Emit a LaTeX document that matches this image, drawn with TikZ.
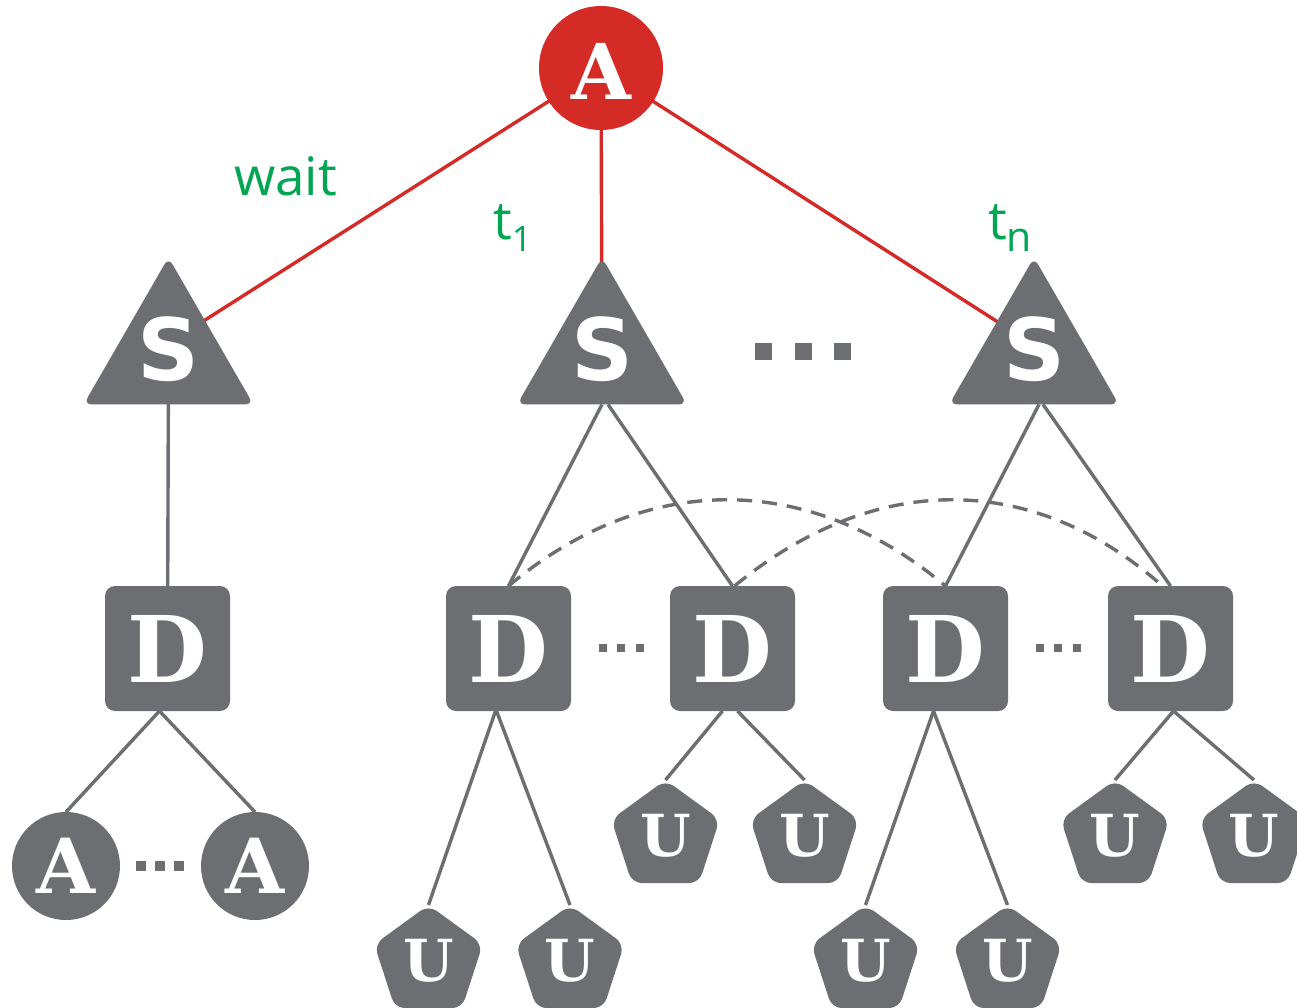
\documentclass[tikz,border=0pt]{standalone}
\usepackage{fontspec}
\setmainfont{DejaVu Serif}
\newfontfamily\slabfont{DejaVu Serif Bold}
\newfontfamily\sboldfont{DejaVu Sans Bold}
\newfontfamily\labfont{Open Sans}
\usetikzlibrary{shapes.geometric}
\definecolor{nodegray}{RGB}{109,110,114}
\definecolor{redA}{RGB}{213,43,39}
\definecolor{greenlab}{RGB}{0,166,81}
\pgfdeclarelayer{background}
\pgfsetlayers{background,main}
\newcommand{\ltr}[2]{\makebox[0pt]{\raisebox{\dimexpr-0.365em+#1\relax}[0pt][0pt]{#2}}}
\tikzset{
  base/.style={inner sep=0pt, outer sep=0pt, fill=nodegray, text=white},
  topnode/.style={base, circle, fill=redA, minimum size=124pt,
    font=\slabfont\fontsize{77pt}{77pt}\selectfont},
  anode/.style={base, circle, minimum size=108pt,
    font=\slabfont\fontsize{76pt}{76pt}\selectfont},
  snode/.style={base, regular polygon, regular polygon sides=3, minimum size=196pt,
    rounded corners=8pt, font=\sboldfont\fontsize{86pt}{86pt}\selectfont},
  dnode/.style={base, rectangle, minimum size=125pt, rounded corners=10pt,
    font=\slabfont\fontsize{92pt}{92pt}\selectfont},
  unode/.style={base, regular polygon, regular polygon sides=5, minimum size=114pt,
    rounded corners=10pt, font=\slabfont\fontsize{58pt}{58pt}\selectfont},
  bigdot/.style={base, rectangle, minimum size=17pt},
  smalldot/.style={base, rectangle, minimum size=8pt},
  adot/.style={base, rectangle, minimum size=10pt},
  lab/.style={inner sep=0pt, text=greenlab, anchor=base west,
    font=\labfont\fontsize{53pt}{53pt}\selectfont},
  redline/.style={draw=redA, line width=3.4pt},
  grayline/.style={draw=nodegray, line width=3.4pt},
  dashline/.style={draw=nodegray, line width=3.4pt, dash pattern=on 15pt off 10pt}
}
\begin{document}
\begin{tikzpicture}[x=1pt,y=-1pt]
\useasboundingbox (0,0) rectangle (1297,1008);

% top
\node[topnode] (A) at (601,68) {\ltr{-3pt}{A}};

% S level
\node[snode] (S1) at (168.5,355.4) {\ltr{6pt}{S}};
\node[snode] (S2) at (602,355.4) {\ltr{6pt}{S}};
\node[snode] (S3) at (1034,355.4) {\ltr{6pt}{S}};
\node[bigdot] (e1) at (763.5,351) {};
\node[bigdot] (e2) at (803,351) {};
\node[bigdot] (e3) at (842,351) {};

% labels
\node[lab] (lw) at (234,196) {wait};
\node[lab] (lt1) at (493,240) {t\raisebox{-12pt}{\fontsize{35pt}{35pt}\selectfont 1}};
\node[lab] (ltn) at (988,240) {t\raisebox{-12pt}{\fontsize{41pt}{41pt}\selectfont n}};

% D level
\node[dnode] (D0) at (167.5,648.5) {\ltr{0pt}{D}};
\node[dnode] (D1) at (508.5,648.5) {\ltr{0pt}{D}};
\node[dnode] (D2) at (732.5,648.5) {\ltr{0pt}{D}};
\node[dnode] (D3) at (945.5,648.5) {\ltr{0pt}{D}};
\node[dnode] (D4) at (1170.5,648.5) {\ltr{0pt}{D}};
\node[smalldot] (f1) at (603,648) {};
\node[smalldot] (f2) at (621,648) {};
\node[smalldot] (f3) at (640,648) {};
\node[smalldot] (g1) at (1040,648) {};
\node[smalldot] (g2) at (1058,648) {};
\node[smalldot] (g3) at (1077,648) {};

% bottom level
\node[anode] (A1) at (66,866) {\ltr{0pt}{A}};
\node[anode] (A2) at (255,866) {\ltr{0pt}{A}};
\node[adot] (h1) at (141,866) {};
\node[adot] (h2) at (160,866) {};
\node[adot] (h3) at (179,866) {};

\node[unode] (U1) at (428.5,962) {\ltr{2pt}{U}};
\node[unode] (U2) at (570,962) {\ltr{2pt}{U}};
\node[unode] (U3) at (665.5,837) {\ltr{2pt}{U}};
\node[unode] (U4) at (804.5,837) {\ltr{2pt}{U}};
\node[unode] (U5) at (865.5,962) {\ltr{2pt}{U}};
\node[unode] (U6) at (1007.5,962) {\ltr{2pt}{U}};
\node[unode] (U7) at (1115,837) {\ltr{2pt}{U}};
\node[unode] (U8) at (1254,837) {\ltr{2pt}{U}};

\begin{pgfonlayer}{background}
  \fill[white] (0,0) rectangle (1297,1008);
  % red edges
  \draw[redline] (A.center) -- ([xshift=-19pt]S1.center);
  \draw[redline] (A.center) -- (S2.center);
  \draw[redline] (A.center) -- ([xshift=16pt]S3.center);
  % S to D
  \draw[grayline] (S1.center) -- (D0.center);
  \draw[grayline] (S2.side 2) -- (D1.north);
  \draw[grayline] ([xshift=6pt]S2.side 2) -- (D2.north);
  \draw[grayline] ([xshift=5pt]S3.side 2) -- (D3.north);
  \draw[grayline] ([xshift=9pt]S3.side 2) -- (D4.north);
  % dashed arcs
  \draw[dashline] (D1.north) .. controls +(137,-115) and +(-137,-115) .. (D3.north);
  \draw[dashline] ([xshift=2pt]D2.north) .. controls +(140,-115) and +(-130,-115) .. ([xshift=-8pt]D4.north);
  % D to leaves
  \draw[grayline] ([xshift=-8pt]D0.south) -- (A1.north);
  \draw[grayline] ([xshift=-8pt]D0.south) -- (A2.north);
  \draw[grayline] ([xshift=-13pt]D1.south) -- (U1.corner 1);
  \draw[grayline] ([xshift=-12pt]D1.south) -- (U2.corner 1);
  \draw[grayline] ([xshift=-10pt]D2.south) -- (U3.corner 1);
  \draw[grayline] ([xshift=5pt]D2.south) -- (U4.corner 1);
  \draw[grayline] ([xshift=-12pt]D3.south) -- (U5.corner 1);
  \draw[grayline] ([xshift=-12pt]D3.south) -- (U6.corner 1);
  \draw[grayline] ([xshift=3pt]D4.south) -- (U7.corner 1);
  \draw[grayline] ([xshift=3pt]D4.south) -- (U8.corner 1);
\end{pgfonlayer}
\end{tikzpicture}
\end{document}
